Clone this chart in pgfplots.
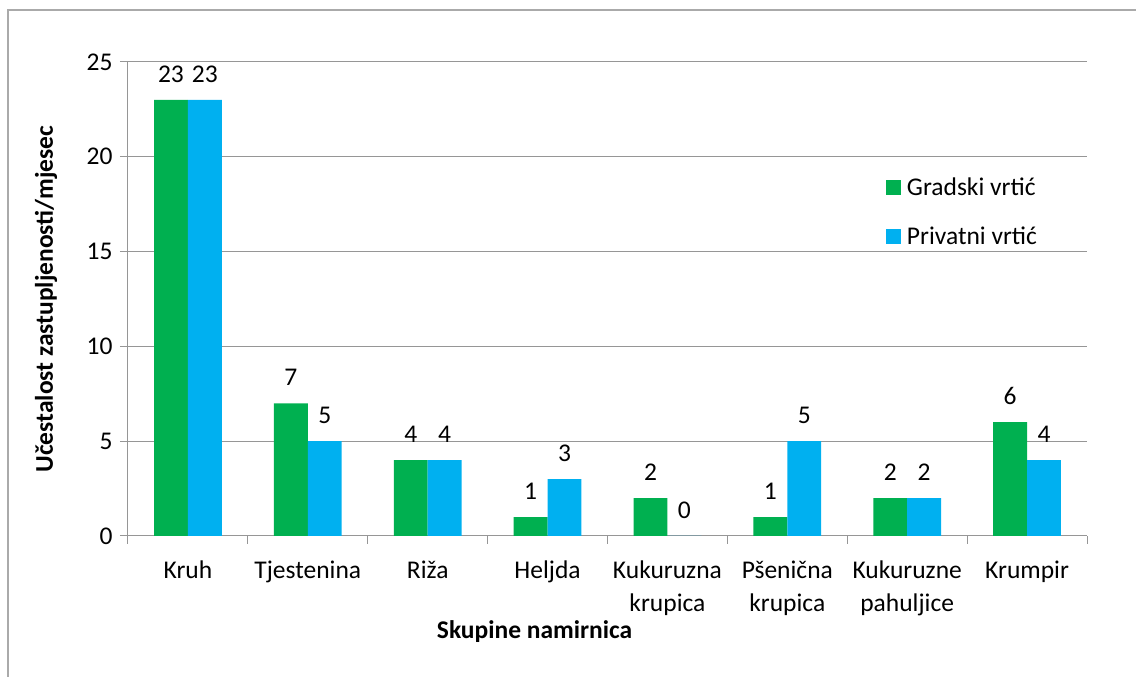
\documentclass[border=0pt]{standalone}
\usepackage{pgfplots}
\pgfplotsset{compat=1.18}
\usepackage{fontspec}
\setmainfont{Carlito}
\definecolor{cgreen}{RGB}{0,176,80}
\definecolor{cblue}{RGB}{0,176,240}
\definecolor{cgrid}{RGB}{150,150,150}
\definecolor{cframe}{RGB}{170,170,170}
\begin{document}
\begin{tikzpicture}[x=1pt,y=1pt]
\begin{axis}[
  at={(128pt,141pt)}, anchor=south west,
  scale only axis, width=959pt, height=474pt,
  font=\fontsize{25.5pt}{33pt}\selectfont,
  /pgf/number format/assume math mode=true,
  xmin=-0.5, xmax=7.5, ymin=0, ymax=25,
  ytick={0,5,...,25},
  xtick={0,...,7},
  xticklabels={Kruh,Tjestenina,Riža,Heljda,{Kukuruzna\\krupica},{Pšenična\\krupica},{Kukuruzne\\pahuljice},Krumpir},
  xticklabel style={align=center, yshift=-13pt},
  minor xtick={-0.5,0.5,...,7.5},
  axis x line*=bottom, axis y line*=left,
  axis line style={cgrid, line width=1pt},
  major x tick style={draw=none},
  minor x tick style={cgrid, line width=1pt},
  major y tick style={cgrid, line width=1pt},
  tick align=outside,
  major tick length=8pt, minor tick length=8pt,
  ymajorgrids, grid style={cgrid, line width=1pt},
  yticklabel style={xshift=-4pt},
  xlabel={\textbf{Skupine namirnica}},
  ylabel={\textbf{Učestalost zastupljenosti/mjesec}},
  every axis x label/.style={at={(axis description cs:0.424,-0.2025)}, anchor=center},
  every axis y label/.style={at={(axis description cs:-0.0855,0.5)}, rotate=90, anchor=center},
  ybar=0pt,
  bar width=0.283,
  nodes near coords,
  every node near coord/.append style={anchor=center, yshift=26pt, text=black},
  legend style={at={(0.787,0.763)}, anchor=north west, draw=none, fill=none, row sep=28pt, column sep=5pt,
    nodes={inner sep=1pt, text=black}},
  legend cell align=left,
  legend image code/.code={\fill[#1] (0pt,-7.5pt) rectangle (15pt,7.5pt);},
]
\addplot[ybar, bar shift=-0.1415, fill=cgreen, draw=none] coordinates {
 (0,23) (1,7) (2,4) (3,1) (4,2) (5,1) (6,2) (7,6)};
\addlegendentry{Gradski vrtić}
\addplot[ybar, bar shift=0.1415, fill=cblue, draw=none] coordinates {
 (0,23) (1,5) (2,4) (3,3) (4,0) (5,5) (6,2) (7,4)};
\addlegendentry{Privatni vrtić}
\end{axis}
\pgfresetboundingbox
\useasboundingbox (0,0) rectangle (1136,677);
\draw[cframe, line width=1.5pt] (8,-10) -- (8,667) -- (1150,667);
\end{tikzpicture}
\end{document}
